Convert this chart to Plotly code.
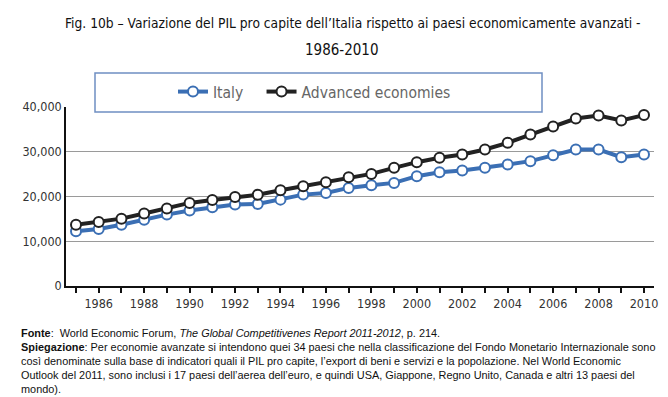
import plotly.graph_objects as go

years = list(range(1985, 2011))
italy = [12240, 12750, 13700, 14830, 15950, 16850, 17600, 18190, 18340, 19300,
         20420, 20800, 21920, 22530, 23040, 24540, 25440, 25800, 26400, 27140,
         27900, 29240, 30500, 30500, 28790, 29370]
advanced = [13700, 14300, 15050, 16200, 17300, 18570, 19240, 19900, 20400, 21400,
            22300, 23200, 24300, 25050, 26400, 27670, 28640, 29370, 30500, 32000,
            33850, 35640, 37430, 38100, 36980, 38190]
x_ticktext = [str(y) if y % 2 == 0 else "" for y in years]
y_tickvals = [0, 10000, 20000, 30000, 40000]
y_ticktext = ["0", "10,000", "20,000", "30,000", "40,000"]

title_line1 = "Fig. 10b – Variazione del PIL pro capite dell’Italia rispetto ai paesi economicamente avanzati -"
title_line2 = "1986-2010"
footnote_lines = [
    "<b>Fonte</b>:  World Economic Forum, <i>The Global Competitivenes Report 2011-2012</i>, p. 214.",
    "<b>Spiegazione</b>: Per economie avanzate si intendono quei 34 paesi che nella classificazione del Fondo Monetario Internazionale sono",
    "così denominate sulla base di indicatori quali il PIL pro capite, l’export di beni e servizi e la popolazione. Nel World Economic",
    "Outlook del 2011, sono inclusi i 17 paesi dell’aerea dell’euro, e quindi USA, Giappone, Regno Unito, Canada e altri 13 paesi del",
    "mondo).",
]

NARROW = "Liberation Sans Narrow, DejaVu Sans Condensed, Arial Narrow, sans-serif"
NBSP = "\u00a0"
BLUE = "#3b6fb4"
BLACK = "#222222"

# plot area in pixels
PL, PR, PT, PB = 58, 646, 99, 278
W, H = PR - PL, PB - PT


def px(x):
    return (x - PL) / W


def py(y):
    return (PB - y) / H


fig = go.Figure()
fig.add_trace(go.Scatter(
    x=years, y=italy, name="Italy" + NBSP * 3, mode="lines+markers",
    line=dict(color=BLUE, width=4),
    marker=dict(symbol="circle", size=10, color="white", line=dict(color=BLUE, width=2)),
))
fig.add_trace(go.Scatter(
    x=years, y=advanced, name="Advanced economies", mode="lines+markers",
    line=dict(color=BLACK, width=4),
    marker=dict(symbol="circle", size=10, color="white", line=dict(color=BLACK, width=2)),
))

# legend frame
fig.add_shape(type="rect", xref="paper", yref="paper",
              x0=px(87), x1=px(534), y0=py(104), y1=py(65),
              line=dict(color="#6f8fc2", width=1.5), fillcolor="white", layer="above")

annotations = [
    dict(text=title_line1, xref="paper", yref="paper", x=px(345), y=py(15),
         xanchor="center", yanchor="middle", showarrow=False,
         font=dict(family=NARROW, size=13.7, color="#111")),
    dict(text=title_line2, xref="paper", yref="paper", x=px(334), y=py(42),
         xanchor="center", yanchor="middle", showarrow=False,
         font=dict(family=NARROW, size=15, color="#111")),
]
for i, line in enumerate(footnote_lines):
    annotations.append(dict(
        text=line, xref="paper", yref="paper", x=px(11), y=py(325 + 13.9 * i),
        xanchor="left", yanchor="middle", align="left", showarrow=False,
        font=dict(family="Liberation Sans, Arial, sans-serif", size=10.9, color="#111")))
fig.update_layout(annotations=annotations)

fig.update_layout(
    width=668, height=397,
    margin=dict(l=PL, r=668 - PR, t=PT, b=397 - PB, autoexpand=False),
    paper_bgcolor="white", plot_bgcolor="white",
    showlegend=True,
    legend=dict(orientation="h", xref="paper", yref="paper",
                x=px(165), y=py(84), xanchor="left", yanchor="middle",
                bgcolor="rgba(0,0,0,0)", borderwidth=0,
                font=dict(family=NARROW, size=15.5, color="#666")),
    xaxis=dict(range=[1984.56, 2010.44], tickvals=years, ticktext=x_ticktext,
               showline=True, linecolor="#111", linewidth=2,
               ticks="outside", ticklen=5, tickcolor="#111", tickwidth=1.5,
               showgrid=False, zeroline=False, automargin=False,
               tickfont=dict(family=NARROW, size=12.5, color="#333")),
    yaxis=dict(range=[0, 40000], tickvals=y_tickvals, ticktext=y_ticktext,
               showline=True, linecolor="#111", linewidth=1.5,
               showgrid=True, gridcolor="#9a9a9a", gridwidth=1, zeroline=False,
               ticks="", automargin=False,
               tickfont=dict(family=NARROW, size=12.5, color="#333")),
)

fig.write_html("out.html")
